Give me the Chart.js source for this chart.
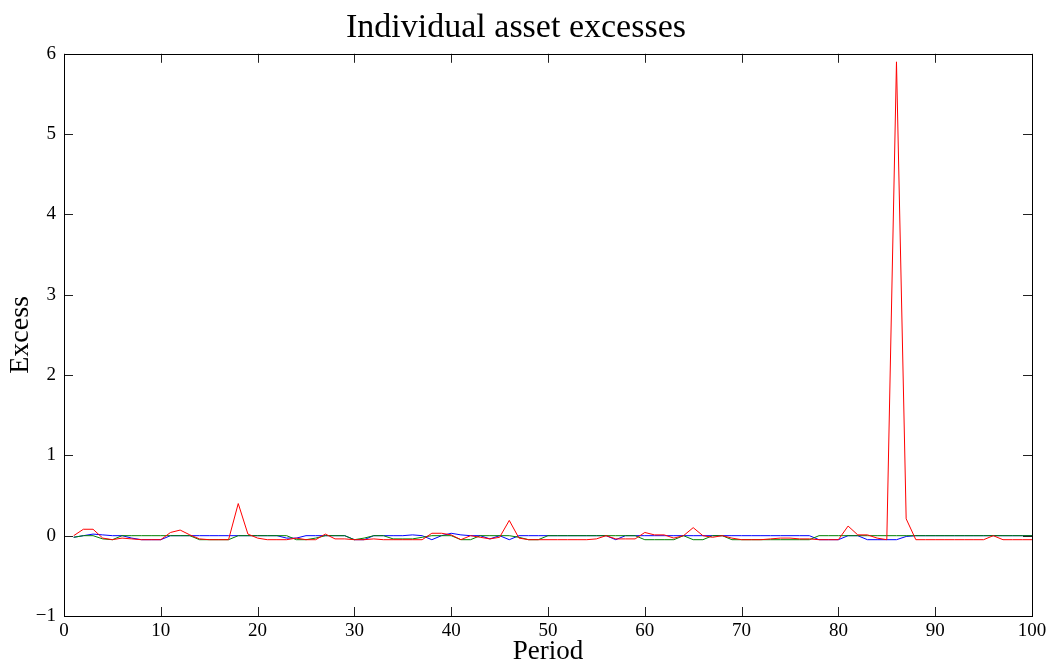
<!DOCTYPE html>
<html>
<head>
<meta charset="utf-8">
<title>Individual asset excesses</title>
<script src="https://cdn.jsdelivr.net/npm/chart.js@4/dist/chart.umd.min.js"></script>
<style>
  html, body { margin: 0; padding: 0; background: #fff; }
  canvas { display: block; }
</style>
</head>
<body>
<canvas id="excessChart" width="1047" height="663"></canvas>
<script>
// periods 1..100
const periods = Array.from({ length: 100 }, (_, i) => i + 1);

// asset excess series, one value per period
const assetBlue = [
  -0.02, 0, 0.02, 0.01, 0, 0, -0.03, -0.05, -0.05, -0.05,
  0, 0, 0, 0, 0, 0, 0, 0, 0, 0,
  0, 0, -0.03, -0.03, 0, 0, 0, 0, 0, -0.05,
  -0.05, 0, 0, 0, 0, 0.01, 0, -0.05, 0, 0.03,
  0.01, 0, 0, -0.04, 0, -0.05, 0, 0, 0, 0,
  0, 0, 0, 0, 0, 0, -0.05, 0, 0, 0,
  0, 0, 0, 0, 0, 0, 0, 0, 0, 0,
  0, 0, 0, 0, 0, 0, 0, -0.05, -0.05, -0.05,
  0, 0, -0.05, -0.05, -0.05, -0.05, -0.01, 0, 0, 0,
  0, 0, 0, 0, 0, 0, 0, 0, 0, 0
];
const assetGreen = [
  -0.02, 0, 0, -0.04, -0.05, 0, 0, 0, 0, 0,
  0, 0, 0, -0.05, -0.05, -0.05, -0.05, 0, 0, 0,
  0, 0, 0, -0.05, -0.05, -0.03, 0, 0, 0, -0.05,
  -0.03, 0, 0, -0.04, -0.04, -0.04, -0.02, 0, 0, 0,
  -0.05, -0.05, 0, 0, 0, 0, -0.02, -0.05, -0.05, 0,
  0, 0, 0, 0, 0, 0, 0, 0, 0, -0.05,
  -0.05, -0.05, -0.05, 0, -0.05, -0.05, 0, 0, -0.05, -0.05,
  -0.05, -0.05, -0.05, -0.05, -0.05, -0.05, -0.05, 0, 0, 0,
  0, 0, 0, 0, 0, 0, 0, 0, 0, 0,
  0, 0, 0, 0, 0, 0, 0, 0, 0, 0
];
const assetRed = [
  0, 0.08, 0.08, -0.03, -0.05, -0.03, -0.04, -0.05, -0.05, -0.05,
  0.04, 0.07, 0.01, -0.04, -0.05, -0.05, -0.05, 0.4, 0.02, -0.03,
  -0.05, -0.05, -0.05, -0.03, -0.05, -0.05, 0.02, -0.04, -0.04, -0.05,
  -0.05, -0.04, -0.05, -0.05, -0.05, -0.05, -0.05, 0.03, 0.03, 0.01,
  -0.05, 0, -0.02, -0.04, -0.02, 0.19, -0.03, -0.05, -0.05, -0.05,
  -0.05, -0.05, -0.05, -0.05, -0.04, 0, -0.04, -0.04, -0.04, 0.04,
  0.01, 0.01, -0.03, 0, 0.1, 0, -0.02, 0, -0.03, -0.05,
  -0.05, -0.05, -0.04, -0.03, -0.03, -0.04, -0.04, -0.05, -0.05, -0.05,
  0.12, 0.01, 0.01, -0.03, -0.05, 5.9, 0.21, -0.05, -0.05, -0.05,
  -0.05, -0.05, -0.05, -0.05, -0.05, 0, -0.05, -0.05, -0.05, -0.05
];

const xTicks = [0, 10, 20, 30, 40, 50, 60, 70, 80, 90, 100];
const yTicks = [-1, 0, 1, 2, 3, 4, 5, 6];

const serif = '"Liberation Serif", "Times New Roman", serif';

function toPoints(vals) {
  return periods.map((p, i) => ({ x: p, y: vals[i] }));
}

// box around the plot with inward tick marks on all four sides
const boxTicks = {
  id: 'boxTicks',
  afterDraw(chart) {
    const { ctx, chartArea: a, scales } = chart;
    const len = 9;
    ctx.save();
    ctx.strokeStyle = '#222';
    ctx.lineWidth = 1;
    ctx.beginPath();
    xTicks.forEach(v => {
      const x = Math.round(scales.x.getPixelForValue(v)) + 0.5;
      ctx.moveTo(x, a.bottom); ctx.lineTo(x, a.bottom - len);
      ctx.moveTo(x, a.top); ctx.lineTo(x, a.top + len);
    });
    yTicks.forEach(v => {
      const y = Math.round(scales.y.getPixelForValue(v)) + 0.5;
      ctx.moveTo(a.left, y); ctx.lineTo(a.left + len, y);
      ctx.moveTo(a.right, y); ctx.lineTo(a.right - len, y);
    });
    ctx.stroke();
    ctx.strokeStyle = '#000';
    ctx.strokeRect(Math.round(a.left) + 0.5, Math.round(a.top) + 0.5,
      Math.round(a.right - a.left), Math.round(a.bottom - a.top));
    ctx.restore();
  }
};

new Chart(document.getElementById('excessChart'), {
  type: 'line',
  data: {
    datasets: [
      { label: 'Asset 3', data: toPoints(assetRed), borderColor: '#ff0000', order: 0 },
      { label: 'Asset 2', data: toPoints(assetGreen), borderColor: '#008000', order: 1 },
      { label: 'Asset 1', data: toPoints(assetBlue), borderColor: '#0000ff', order: 2 }
    ]
  },
  options: {
    responsive: false,
    animation: false,
    devicePixelRatio: 1,
    elements: {
      line: { borderWidth: 1, tension: 0, fill: false },
      point: { radius: 0, hoverRadius: 0 }
    },
    layout: { padding: { left: 0, right: 15, top: 0, bottom: 0 } },
    plugins: {
      legend: { display: false },
      tooltip: { enabled: false },
      title: {
        display: true,
        text: 'Individual asset excesses',
        color: '#000',
        font: { family: serif, size: 34, weight: 'normal', lineHeight: 1.2 },
        padding: { top: 8, bottom: 5 }
      }
    },
    scales: {
      x: {
        type: 'linear',
        min: 0,
        max: 100,
        afterBuildTicks: s => { s.ticks = xTicks.map(v => ({ value: v })); },
        afterFit: s => { s.height = 47; s.paddingLeft = 0; s.paddingRight = 0; },
        grid: { display: false, drawTicks: false },
        border: { display: false },
        ticks: { color: '#000', padding: 4, font: { family: serif, size: 19 }, maxRotation: 0 },
        title: {
          display: true,
          text: 'Period',
          color: '#000',
          font: { family: serif, size: 27, lineHeight: 0.85 },
          padding: { top: 0, bottom: 0 }
        }
      },
      y: {
        type: 'linear',
        min: -1,
        max: 6,
        afterBuildTicks: s => { s.ticks = yTicks.map(v => ({ value: v })); },
        afterFit: s => { s.width = 64; s.paddingTop = 0; s.paddingBottom = 0; },
        grid: { display: false, drawTicks: false },
        border: { display: false },
        ticks: {
          color: '#000',
          padding: 8,
          font: { family: serif, size: 19 },
          callback: v => (v < 0 ? '\u2212' + Math.abs(v) : String(v))
        },
        title: {
          display: true,
          text: 'Excess',
          color: '#000',
          font: { family: serif, size: 28, lineHeight: 1.2 },
          padding: { top: 4, bottom: 0 }
        }
      }
    }
  },
  plugins: [boxTicks]
});
</script>
</body>
</html>
